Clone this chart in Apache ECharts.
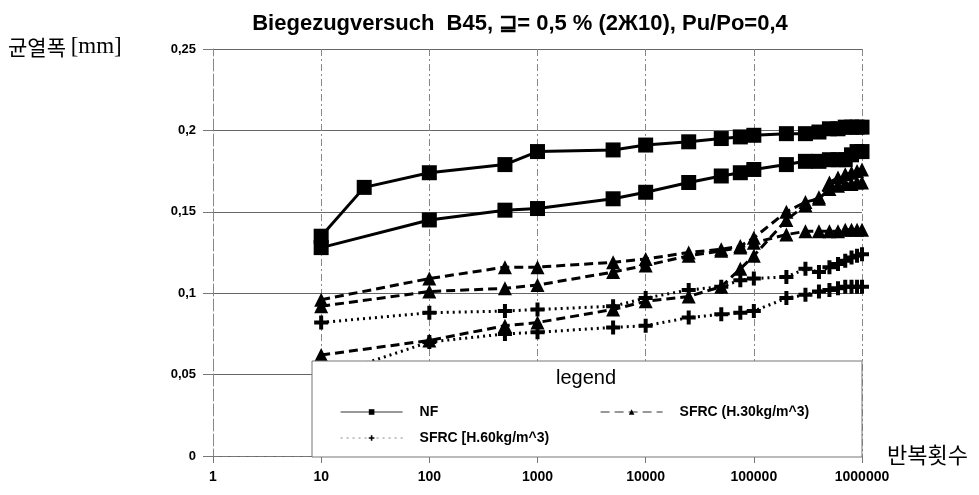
<!DOCTYPE html>
<html>
<head>
<meta charset="utf-8">
<script src="https://cdn.jsdelivr.net/npm/echarts@6/dist/echarts.min.js"></script>
<style>
  html, body { margin: 0; padding: 0; background: #fff; }
  #chart { width: 979px; height: 495px; }
</style>
</head>
<body>
<div id="chart"></div>
<script>
// load cycles (log axis) and crack widths [mm]
const cyclesNF1 = [10, 25, 100, 500, 1000, 5000, 10000, 25000, 50000, 75000, 100000, 200000, 300000, 400000, 500000, 600000, 700000, 800000, 900000, 1000000]
const nf1 = [0.135, 0.165, 0.174, 0.179, 0.187, 0.188, 0.191, 0.193, 0.195, 0.196, 0.197, 0.198, 0.198, 0.199, 0.201, 0.201, 0.202, 0.202, 0.202, 0.202]

const cycles = [10, 100, 500, 1000, 5000, 10000, 25000, 50000, 75000, 100000, 200000, 300000, 400000, 500000, 600000, 700000, 800000, 900000, 1000000]
const nf2 = [0.128, 0.145, 0.151, 0.152, 0.158, 0.162, 0.168, 0.172, 0.174, 0.176, 0.179, 0.181, 0.181, 0.182, 0.182, 0.182, 0.185, 0.187, 0.187]

const h30a = [0.096, 0.109, 0.116, 0.116, 0.119, 0.121, 0.125, 0.127, 0.129, 0.134, 0.150, 0.156, 0.158, 0.164, 0.166, 0.167, 0.167, 0.168, 0.168]
const h30b = [0.092, 0.101, 0.103, 0.105, 0.113, 0.117, 0.123, 0.126, 0.128, 0.131, 0.136, 0.138, 0.138, 0.138, 0.138, 0.139, 0.139, 0.139, 0.139]
const h30c = [0.062, 0.071, 0.080, 0.082, 0.090, 0.095, 0.098, 0.104, 0.115, 0.123, 0.145, 0.154, 0.159, 0.168, 0.171, 0.173, 0.174, 0.175, 0.176]

const h60a = [0.082, 0.088, 0.089, 0.090, 0.092, 0.097, 0.102, 0.104, 0.108, 0.109, 0.110, 0.115, 0.113, 0.116, 0.118, 0.120, 0.122, 0.123, 0.124]
const h60b = [0.048, 0.070, 0.075, 0.076, 0.079, 0.080, 0.085, 0.087, 0.088, 0.089, 0.097, 0.099, 0.101, 0.102, 0.103, 0.104, 0.104, 0.104, 0.104]

const nameNF = 'NF'
const nameH30 = 'SFRC (H.30kg/m^3)'
const nameH60 = 'SFRC [H.60kg/m^3)'

const plusPath = 'path://M5,0H9V5H14V9H9V14H5V9H0V5H5Z'
const baseFont = 'Liberation Sans, Arial, sans-serif'

function pairs(xs, ys) {
  return xs.map((x, i) => [x, ys[i]])
}

function lineSeries(name, xs, ys, kind) {
  var s = {
    name: name,
    type: 'line',
    data: pairs(xs, ys),
    symbolSize: 14,
    itemStyle: { color: '#000' },
    lineStyle: { color: '#000', width: 3 },
    z: 3
  }
  if (kind == 'nf') {
    s.symbol = 'rect'
    s.symbolSize = 15
    s.lineStyle.type = 'solid'
  }
  if (kind == 'h30') {
    s.symbol = 'triangle'
    s.lineStyle.type = [9, 5]
  }
  if (kind == 'h60') {
    s.symbol = plusPath
    s.lineStyle.type = [2, 4]
  }
  return s
}

function legendAt(name, left, top, lineColor) {
  return {
    data: [name],
    left: left,
    top: top,
    padding: 0,
    itemWidth: 62,
    itemHeight: 7,
    selectedMode: false,
    z: 60,
    lineStyle: { width: 1.2, color: lineColor },
    textStyle: { fontFamily: baseFont, fontSize: 14, fontWeight: 'bold', color: '#000', padding: [0, 0, 0, 12], lineHeight: 16 }
  }
}

var myChart = echarts.init(document.getElementById('chart'))

const option = {
  animation: false,
  backgroundColor: '#fff',
  title: {
    text: 'Biegezugversuch  B45, \u2292= 0,5 % (2\u041610), Pu/Po=0,4',
    left: 515,
    textAlign: 'center',
    top: 8,
    textStyle: { fontFamily: baseFont, fontSize: 22, fontWeight: 'bold', color: '#000' }
  },
  grid: {
    left: 213,
    right: 117,
    top: 49,
    bottom: 39,
    outerBoundsMode: 'none'
  },
  xAxis: {
    type: 'log',
    logBase: 10,
    min: 1,
    max: 1000000,
    axisLine: { lineStyle: { color: '#777', type: [6, 3] } },
    axisTick: { show: true, length: 7, lineStyle: { color: '#777' } },
    axisLabel: {
      margin: 14,
      fontFamily: baseFont,
      fontSize: 14,
      fontWeight: 'bold',
      color: '#000',
      formatter: (v) => String(Math.round(v))
    },
    splitLine: { show: true, lineStyle: { color: '#888', type: [7, 3, 2, 3] } }
  },
  yAxis: {
    type: 'value',
    min: 0,
    max: 0.25,
    interval: 0.05,
    axisLine: { show: true, lineStyle: { color: '#888', type: [7, 3, 2, 3] } },
    axisTick: { show: true, length: 10, lineStyle: { color: '#777' } },
    axisLabel: {
      margin: 17,
      fontFamily: baseFont,
      fontSize: 13,
      fontWeight: 'bold',
      color: '#000',
      formatter: (v) => String(+v.toFixed(2)).replace('.', ',')
    },
    splitLine: { show: true, lineStyle: { color: '#666', width: 1 } }
  },
  legend: [
    legendAt(nameNF, 340, 404, '#333'),
    legendAt(nameH30, 600, 404, '#333'),
    legendAt(nameH60, 340, 430, '#888')
  ],
  graphic: [
    {
      type: 'rect',
      shape: { x: 312, y: 361, width: 550, height: 96 },
      style: { fill: '#fff', stroke: '#777', lineWidth: 1 },
      z: 50
    },
    {
      type: 'text',
      x: 586,
      y: 378,
      z: 51,
      style: { text: 'legend', fontFamily: baseFont, fontSize: 20, fill: '#000', align: 'center', verticalAlign: 'middle' }
    },
    {
      type: 'text',
      x: 8,
      y: 47,
      style: {
        text: '{k|균열폭 }{u|[mm]}',
        verticalAlign: 'middle',
        rich: {
          k: { fontFamily: 'Noto Sans CJK KR', fontSize: 21, fill: '#000' },
          u: { fontFamily: 'Liberation Serif', fontSize: 23, fill: '#000' }
        }
      }
    },
    {
      type: 'text',
      x: 887,
      y: 455,
      style: { text: '반복횟수', fontFamily: 'Noto Sans CJK KR', fontSize: 22, fill: '#000', verticalAlign: 'middle' }
    }
  ],
  series: [
    lineSeries(nameNF, cyclesNF1, nf1, 'nf'),
    lineSeries(nameNF, cycles, nf2, 'nf'),
    lineSeries(nameH30, cycles, h30a, 'h30'),
    lineSeries(nameH30, cycles, h30b, 'h30'),
    lineSeries(nameH30, cycles, h30c, 'h30'),
    lineSeries(nameH60, cycles, h60a, 'h60'),
    lineSeries(nameH60, cycles, h60b, 'h60')
  ]
}

myChart.setOption(option)
</script>
</body>
</html>
